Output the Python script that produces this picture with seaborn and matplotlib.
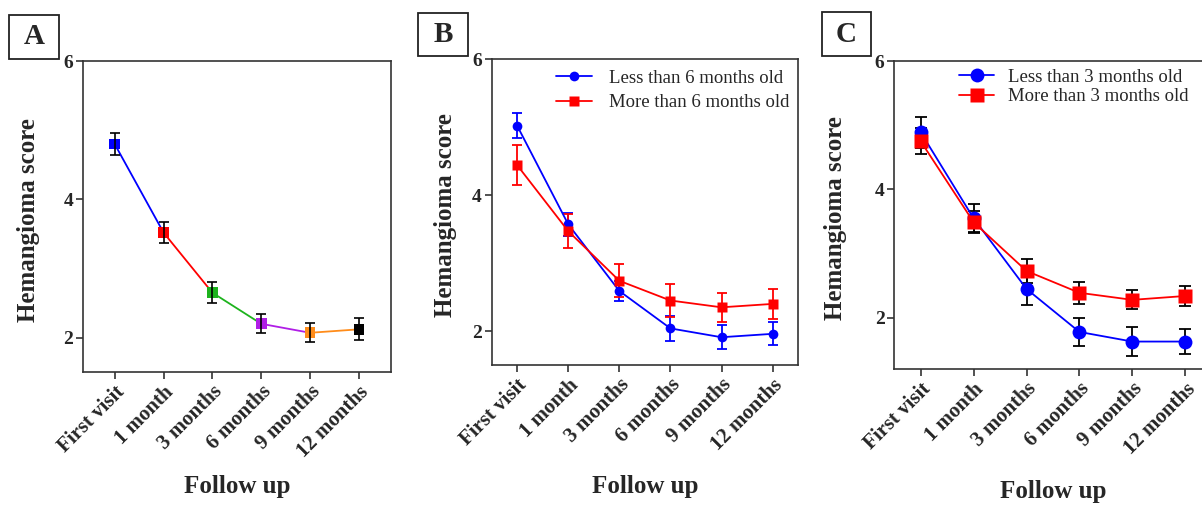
import matplotlib
matplotlib.use("Agg")
import matplotlib.pyplot as plt
import matplotlib.patches as mpatches
import seaborn as sns
import numpy as np
import pandas as pd

# follow-up time points (x categories)
timepoints = ["First visit", "1 month", "3 months", "6 months", "9 months", "12 months"]

# panel A: all patients
a_mean = [4.80, 3.52, 2.65, 2.20, 2.07, 2.12]
a_err = [0.16, 0.15, 0.15, 0.14, 0.14, 0.16]
a_colors = ["#0000ff", "#ff0000", "#1db31d", "#b01ee6", "#ff8c1a", "#000000"]

# panel B: split at 6 months of age
b_labels = ["Less than 6 months old", "More than 6 months old"]
b_less_mean = [5.02, 3.57, 2.59, 2.04, 1.91, 1.96]
b_less_err = [0.18, 0.17, 0.15, 0.18, 0.18, 0.17]
b_more_mean = [4.44, 3.47, 2.74, 2.45, 2.35, 2.40]
b_more_err = [0.29, 0.25, 0.24, 0.24, 0.21, 0.22]

# panel C: split at 3 months of age
c_labels = ["Less than 3 months old", "More than 3 months old"]
c_less_mean = [4.89, 3.55, 2.45, 1.78, 1.63, 1.63]
c_less_err = [0.24, 0.22, 0.25, 0.22, 0.23, 0.19]
c_more_mean = [4.75, 3.49, 2.73, 2.39, 2.28, 2.34]
c_more_err = [0.20, 0.17, 0.18, 0.17, 0.15, 0.16]

sns.set_style("white")
plt.rcParams['font.family'] = ['Liberation Serif', 'DejaVu Serif']
plt.rcParams['axes.edgecolor'] = '#333333'
plt.rcParams['axes.linewidth'] = 1.2

fig = plt.figure(figsize=(12.02, 5.05), dpi=100)
x = np.arange(len(timepoints))


def style_axes(ax, ylim, ylab_x, xlab_y):
    ax.set_xlim(-0.5, 5.5)
    ax.set_ylim(*ylim)
    ax.set_yticks([2, 4, 6])
    ax.set_xticks(x)
    ax.set_xticklabels(timepoints, rotation=45, ha='right', rotation_mode='anchor',
                       fontsize=15, fontweight='bold')
    for t in ax.get_yticklabels():
        t.set_fontsize(14)
        t.set_fontweight('bold')
    ax.tick_params(axis='both', direction='out', length=5, width=1.2, color='#333333',
                   bottom=True, left=True, pad=2)
    ax.set_ylabel("Hemangioma score", fontsize=18, fontweight='bold')
    ax.set_xlabel("Follow up", fontsize=18, fontweight='bold')
    ax.yaxis.set_label_coords(ylab_x, 0.49)
    ax.xaxis.set_label_coords(0.5, xlab_y)


def panel_letter(letter, x0, y0, x1, y1):
    W, H = 1202, 505
    rect = mpatches.Rectangle((x0 / W, 1 - y1 / H), (x1 - x0) / W, (y1 - y0) / H,
                              transform=fig.transFigure, fill=False,
                              edgecolor='#222222', linewidth=1.3)
    fig.patches.append(rect)
    fig.text((x0 + x1) / 2 / W, 1 - (y0 + y1) / 2 / H, letter, ha='center', va='center',
             fontsize=21, fontweight='bold')


# ---- panel A ----
axA = fig.add_axes([0.069, 0.263, 0.256, 0.616])
# each segment takes the colour of its starting point
seg_rows = []
for i in range(len(x) - 1):
    seg_rows.append({"seg": i, "x": x[i], "y": a_mean[i]})
    seg_rows.append({"seg": i, "x": x[i + 1], "y": a_mean[i + 1]})
seg_df = pd.DataFrame(seg_rows)
sns.lineplot(data=seg_df, x="x", y="y", hue="seg", palette=a_colors[:-1],
             linewidth=1.3, legend=False, ax=axA, zorder=2)
a_df = pd.DataFrame({"x": x, "y": a_mean, "pt": timepoints})
sns.scatterplot(data=a_df, x="x", y="y", hue="pt", palette=a_colors, marker='s',
                s=60, edgecolor='none', legend=False, ax=axA, zorder=3)
axA.errorbar(x, a_mean, yerr=a_err, fmt='none', ecolor='black', elinewidth=1.2,
             capsize=3.5, capthick=1.2, zorder=4)
style_axes(axA, (1.5, 6), -0.14, -0.33)
axA.set_xlim(-0.65, 5.65)
panel_letter("A", 9, 15, 59, 59)

# ---- panel B ----
axB = fig.add_axes([0.409, 0.277, 0.255, 0.606])
b_df = pd.DataFrame({
    "x": np.concatenate([x, x]),
    "y": b_less_mean + b_more_mean,
    "grp": [b_labels[0]] * 6 + [b_labels[1]] * 6,
})
sns.lineplot(data=b_df, x="x", y="y", hue="grp", style="grp",
             palette=["#0000ff", "#ff0000"], markers=['o', 's'], dashes=False,
             markersize=7, markeredgecolor='none', linewidth=1.3, ax=axB, zorder=3)
axB.errorbar(x, b_less_mean, yerr=b_less_err, fmt='none', ecolor='#0000ff',
             elinewidth=1.3, capsize=3.5, capthick=1.3, zorder=2)
axB.errorbar(x, b_more_mean, yerr=b_more_err, fmt='none', ecolor='#ff0000',
             elinewidth=1.3, capsize=3.5, capthick=1.3, zorder=2)
style_axes(axB, (1.5, 6), -0.114, -0.36)
h, l = axB.get_legend_handles_labels()
axB.legend(h, l, loc='upper left', bbox_to_anchor=(0.155, 1.02), frameon=False,
           fontsize=13.5, handlelength=1.9, handletextpad=0.9, labelspacing=0.38)

# ---- panel C ----
axC = fig.add_axes([0.744, 0.269, 0.264, 0.610])
c_df = pd.DataFrame({
    "x": np.concatenate([x, x]),
    "y": c_less_mean + c_more_mean,
    "grp": [c_labels[0]] * 6 + [c_labels[1]] * 6,
})
axC.errorbar(x, c_less_mean, yerr=c_less_err, fmt='none', ecolor='black',
             elinewidth=1.3, capsize=4, capthick=1.3, zorder=2)
axC.errorbar(x, c_more_mean, yerr=c_more_err, fmt='none', ecolor='black',
             elinewidth=1.3, capsize=4, capthick=1.3, zorder=2)
sns.lineplot(data=c_df, x="x", y="y", hue="grp", style="grp",
             palette=["#0000ff", "#ff0000"], markers=['o', 's'], dashes=False,
             markersize=10, markeredgecolor='none', linewidth=1.3, ax=axC, zorder=3)
style_axes(axC, (1.2, 6), -0.148, -0.36)
h, l = axC.get_legend_handles_labels()
axC.legend(h, l, loc='upper left', bbox_to_anchor=(0.15, 1.03), frameon=False,
           fontsize=13.5, handlelength=1.9, handletextpad=0.7, labelspacing=0.12)

panel_letter("B", 418, 13, 468, 56)
panel_letter("C", 822, 12, 871, 56)

fig.savefig("out.png", dpi=100)
